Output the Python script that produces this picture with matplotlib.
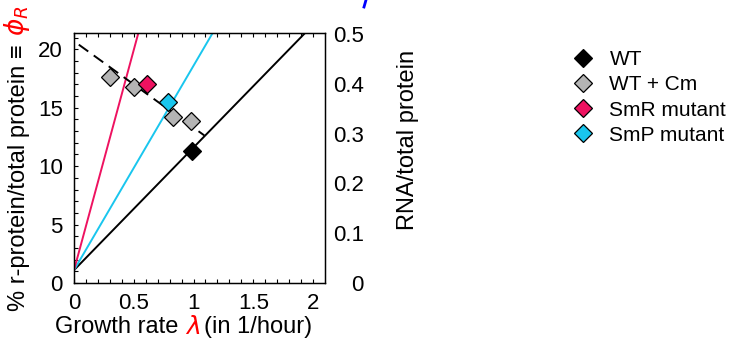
import numpy as np
import matplotlib
matplotlib.use("Agg")
import matplotlib.pyplot as plt
from matplotlib.lines import Line2D

plt.rcParams['font.family'] = ['Liberation Sans', 'DejaVu Sans']
plt.rcParams['mathtext.fontset'] = 'dejavusans'

# data
wt_lam = [0.985]
wt_phi = [11.3]
cm_lam = [0.30, 0.505, 0.826, 0.976]
cm_phi = [17.6, 16.8, 14.2, 13.9]
smr_lam = [0.614]
smr_phi = [17.0]
smp_lam = [0.79]
smp_phi = [15.5]

phi0 = 1.1                      # common offset of the growth laws
slopes = {'black': 10.5, '#19c6ee': 17.5, '#ee1260': 37.7}
cm_fit = (20.7, -7.4)           # intercept, slope of dashed line
cm_range = (0.04, 1.09)

c_smr = '#ee1260'
c_smp = '#19c6ee'
c_gray = '#b4b4b4'

W, H = 731, 346
fig = plt.figure(figsize=(W / 100, H / 100), dpi=100)
ax = fig.add_axes([74 / W, 1 - 283 / H, (325 - 74) / W, (283 - 33) / H])

lam = np.linspace(0, 2.2, 50)
for col, k in slopes.items():
    ax.plot(lam, phi0 + k * lam, color=col, lw=1.4, zorder=2)

lc = np.linspace(*cm_range, 10)
ax.plot(lc, cm_fit[0] + cm_fit[1] * lc, 'k', lw=1.4, dashes=(6, 3.5), zorder=2)

mk = dict(marker='D', ms=9, mec='k', mew=0.9, ls='none', zorder=3)
ax.plot(cm_lam, cm_phi, mfc=c_gray, **mk)
ax.plot(smr_lam, smr_phi, mfc=c_smr, **mk)
ax.plot(smp_lam, smp_phi, mfc=c_smp, **mk)
ax.plot(wt_lam, wt_phi, mfc='k', **mk)

ax.set_xlim(0, 2.1)
ax.set_ylim(0, 21.4)
ax.set_xticks([0, 0.5, 1, 1.5, 2])
ax.set_xticklabels(['0', '0.5', '1', '1.5', '2'])
ax.set_yticks([0, 5, 10, 15, 20])
ax.set_xticks(np.arange(0, 2.1, 0.1), minor=True)
ax.set_yticks(np.arange(0, 21.4, 1), minor=True)
ax.tick_params(which='both', direction='in', top=True, right=False,
               labelsize=16, length=3, width=0.8)
ax.tick_params(axis='x', pad=7)
ax.tick_params(axis='y', pad=8)
for s in ax.spines.values():
    s.set_linewidth(1.0)

ax2 = ax.twinx()
ax2.set_ylim(0, 0.502)
ax2.set_yticks([0, 0.1, 0.2, 0.3, 0.4, 0.5])
ax2.set_yticklabels(['0', '0.1', '0.2', '0.3', '0.4', '0.5'])
ax2.tick_params(axis='y', length=0, labelsize=16, pad=28)
for t in ax2.get_yticklabels():
    t.set_horizontalalignment('right')

fig.text(408 / W, 1 - 140 / H, 'RNA/total protein', rotation=90,
         ha='center', va='center', fontsize=17)

# axis labels with coloured symbols
fig.canvas.draw()
r = fig.canvas.get_renderer()
ty = fig.text(19 / W, 1 - 311 / H, '% r-protein/total protein \u2261 ', rotation=90,
              ha='center', va='bottom', fontsize=17)
bb = ty.get_window_extent(r)
fig.text(17 / W, (bb.y1 + 2) / H, r'$\phi_R$', rotation=90, color='red',
         ha='center', va='bottom', fontsize=19)

t1 = fig.text(55 / W, 1 - 327 / H, 'Growth rate ', ha='left', va='center', fontsize=17)
bb = t1.get_window_extent(r)
t2 = fig.text(bb.x1 / W, 1 - 327 / H, r'$\lambda$', color='red',
              ha='left', va='center', fontsize=18)
bb = t2.get_window_extent(r)
fig.text((bb.x1 + 4) / W, 1 - 327 / H, '(in 1/hour)', ha='left', va='center', fontsize=17)

# legend
handles = [Line2D([], [], mfc=c, **mk) for c in ['k', c_gray, c_smr, c_smp]]
labels = ['WT', 'WT + Cm', 'SmR mutant', 'SmP mutant']
fig.legend(handles, labels, loc='upper left', bbox_to_anchor=(573 / W, 1 - 50 / H),
           frameon=False, fontsize=15, handlelength=1.0, handletextpad=0.75,
           labelspacing=0.3, borderpad=0, borderaxespad=0)

# cropped fragment in blue at top
fig.add_artist(Line2D([366 / W, 364 / W], [1.0, 1 - 7 / H], color='blue', lw=2))

fig.savefig('out.png', dpi=100)
